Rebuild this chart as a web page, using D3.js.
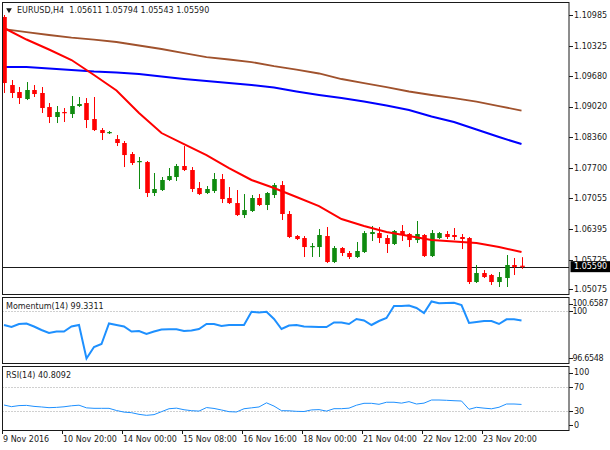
<!DOCTYPE html>
<html>
<head>
<meta charset="utf-8">
<script src="https://cdn.jsdelivr.net/npm/d3@7"></script>
<style>
  html, body { margin: 0; padding: 0; background: #fff; }
  svg { display: block; font-family: "DejaVu Sans", sans-serif; font-size: 8px; }
</style>
</head>
<body>
<div id="chart"></div>
<script>
// ---- data ----
const symbolTitle = "EURUSD,H4";
const lastQuote = ["1.05611", "1.05794", "1.05543", "1.05590"];

const dateLabels = ["9 Nov 2016", "10 Nov 20:00", "14 Nov 00:00", "15 Nov 08:00", "16 Nov 16:00",
                    "18 Nov 00:00", "21 Nov 04:00", "22 Nov 12:00", "23 Nov 20:00"];
const dateLabelBars = [0, 8, 16, 24, 32, 40, 48, 56, 64];

const priceTicks = [1.10985, 1.10325, 1.09680, 1.09020, 1.08360, 1.07700, 1.07055, 1.06395, 1.05725, 1.05075];
const lastPrice = 1.05590;

const opens = [1.10942, 1.09484, 1.09334, 1.09184, 1.09377, 1.09313, 1.09012, 1.08798, 1.08905, 1.08862,
  1.09034, 1.09098, 1.08755, 1.08519, 1.08455, 1.08326, 1.08241, 1.08005, 1.07833, 1.07833,
  1.07169, 1.07233, 1.07448, 1.07512, 1.07748, 1.07662, 1.07276, 1.07169, 1.07212, 1.07469,
  1.07062, 1.06954, 1.06697, 1.06783, 1.07062, 1.06912, 1.07126, 1.07340, 1.06719, 1.06247,
  1.06204, 1.06011, 1.06011, 1.06247, 1.05690, 1.05990, 1.05883, 1.05797, 1.05904, 1.06290,
  1.06311, 1.06204, 1.06076, 1.06354, 1.06290, 1.06161, 1.06269, 1.05818, 1.06204, 1.06290,
  1.06269, 1.06226, 1.06204, 1.05261, 1.05454, 1.05411, 1.05261, 1.05347, 1.05626, 1.05611];
const highs = [1.10985, 1.09591, 1.09441, 1.09548, 1.09484, 1.09441, 1.09098, 1.09034, 1.08991, 1.09248,
  1.09227, 1.09205, 1.09227, 1.08562, 1.08498, 1.08412, 1.08284, 1.08048, 1.07941, 1.07855,
  1.07598, 1.07512, 1.07705, 1.07791, 1.08176, 1.07726, 1.07405, 1.07319, 1.07598, 1.07576,
  1.07297, 1.07233, 1.07147, 1.07126, 1.07147, 1.07190, 1.07383, 1.07426, 1.06783, 1.06269,
  1.06247, 1.06097, 1.06397, 1.06440, 1.06033, 1.06011, 1.05926, 1.06119, 1.06354, 1.06462,
  1.06440, 1.06269, 1.06376, 1.06483, 1.06311, 1.06569, 1.06290, 1.06376, 1.06333, 1.06354,
  1.06419, 1.06290, 1.06226, 1.05626, 1.05518, 1.05433, 1.05475, 1.05840, 1.05776, 1.05794];
const lows = [1.09313, 1.09205, 1.09077, 1.09162, 1.09227, 1.08884, 1.08669, 1.08669, 1.08691, 1.08777,
  1.09012, 1.08562, 1.08498, 1.08305, 1.08434, 1.08176, 1.07726, 1.07769, 1.07255, 1.07083,
  1.07105, 1.07212, 1.07426, 1.07426, 1.07640, 1.07190, 1.07126, 1.07147, 1.07169, 1.06954,
  1.06933, 1.06676, 1.06633, 1.06762, 1.06890, 1.06804, 1.07062, 1.06590, 1.06204, 1.06161,
  1.05797, 1.05797, 1.05797, 1.05668, 1.05668, 1.05818, 1.05754, 1.05776, 1.05883, 1.06140,
  1.06097, 1.05883, 1.06054, 1.06140, 1.06011, 1.06097, 1.05797, 1.05797, 1.06183, 1.06183,
  1.06161, 1.05968, 1.05218, 1.05240, 1.05347, 1.05197, 1.05154, 1.05154, 1.05411, 1.05543];
const closes = [1.09527, 1.09313, 1.09205, 1.09377, 1.09291, 1.08991, 1.08798, 1.08905, 1.08884, 1.09034,
  1.09077, 1.08734, 1.08519, 1.08455, 1.08476, 1.08241, 1.07983, 1.07812, 1.07855, 1.07169,
  1.07255, 1.07448, 1.07533, 1.07748, 1.07662, 1.07255, 1.07147, 1.07255, 1.07469, 1.07040,
  1.06954, 1.06697, 1.06804, 1.07062, 1.06912, 1.07169, 1.07340, 1.06719, 1.06226, 1.06183,
  1.06011, 1.06033, 1.06269, 1.05690, 1.05990, 1.05883, 1.05797, 1.05926, 1.06311, 1.06333,
  1.06204, 1.06076, 1.06354, 1.06269, 1.06161, 1.06290, 1.05818, 1.06311, 1.06311, 1.06226,
  1.06226, 1.06183, 1.05261, 1.05454, 1.05368, 1.05261, 1.05368, 1.05626, 1.05583, 1.05590];

// moving averages, read every third bar
const maBars = [0, 3, 6, 9, 12, 15, 18, 21, 24, 27, 30, 33, 36, 39, 42, 45, 48, 51, 54, 57, 60, 63, 66, 69];
const maFast = [1.10706, 1.10459, 1.10245, 1.10020, 1.09698, 1.09366, 1.08884, 1.08455, 1.08219, 1.07983,
  1.07705, 1.07448, 1.07276, 1.07083, 1.06890, 1.06612, 1.06462, 1.06333, 1.06247, 1.06161,
  1.06129, 1.06097, 1.06011, 1.05904];
const maMid = [1.09870, 1.09870, 1.09838, 1.09806, 1.09773, 1.09752, 1.09720, 1.09666, 1.09613, 1.09570,
  1.09527, 1.09484, 1.09430, 1.09345, 1.09270, 1.09205, 1.09130, 1.09045, 1.08948, 1.08809,
  1.08691, 1.08530, 1.08369, 1.08219];
const maSlow = [1.10684, 1.10620, 1.10556, 1.10502, 1.10459, 1.10406, 1.10331, 1.10256, 1.10170, 1.10084,
  1.10031, 1.09977, 1.09891, 1.09816, 1.09731, 1.09613, 1.09527, 1.09441, 1.09345, 1.09270,
  1.09205, 1.09130, 1.09034, 1.08937];

const momentum = [99.008, 98.868, 99.078, 99.113, 98.903, 98.657, 98.446, 98.551, 98.551, 98.903,
  99.008, 96.6548, 97.463, 97.673, 99.113, 99.008, 98.903, 98.551, 98.587, 98.376,
  98.551, 98.692, 98.706, 98.706, 98.587, 98.622, 98.727, 99.078, 99.078, 98.938,
  99.008, 99.008, 99.008, 99.942, 99.886, 99.942, 99.429, 98.727, 98.973, 99.008,
  98.903, 98.889, 98.868, 98.868, 99.184, 99.184, 99.078, 99.429, 99.324, 99.008,
  99.289, 99.500, 100.343, 100.343, 100.378, 100.202, 99.851, 100.6587, 100.532, 100.553,
  100.574, 100.413, 99.148, 99.219, 99.289, 99.289, 99.078, 99.408, 99.408, 99.3311];
const momentumTicks = [100.6587, 100, 96.6548];
const momentumLevels = [100];

const rsi = [39.8, 37.0, 38.8, 39.2, 37.5, 36.5, 35.3, 35.8, 36.8, 38.5,
  39.5, 35.0, 34.2, 34.2, 34.2, 30.5, 27.8, 26.8, 24.0, 22.3,
  23.5, 28.5, 33.5, 34.5, 31.8, 30.2, 29.5, 35.5, 34.0, 31.4,
  28.5, 28.0, 33.5, 35.0, 36.5, 43.5, 38.0, 30.2, 30.0, 29.1,
  28.8, 31.5, 32.0, 29.5, 33.6, 33.6, 34.5, 39.5, 42.7, 42.7,
  41.0, 44.5, 44.5, 43.0, 45.5, 41.5, 43.0, 48.3, 48.3, 47.8,
  47.1, 46.6, 32.5, 35.9, 34.5, 33.4, 36.0, 41.5, 41.5, 40.8092];
const rsiTicks = [100, 70, 30, 0];
const rsiLevels = [70, 30];

// ---- layout ----
const width = 610, height = 450;
const left = 2.5, right = 569;
const mainPane = { top: 2.5, bottom: 294.5 };
const momPane = { top: 297.5, bottom: 363.5 };
const rsiPane = { top: 366.5, bottom: 430.5 };
const barStep = 7.5;
const bodyWidth = 4.6;
const bull = "#0f8a0f", bear = "#ff0000", ink = "#1a1a1a";

const svg = d3.select("#chart").append("svg")
  .attr("width", width)
  .attr("height", height);

const x = d3.scaleLinear()
  .domain([0, opens.length - 1])
  .range([left + 1.5, left + 1.5 + barStep * (opens.length - 1)]);

const yMain = d3.scaleLinear().domain([1.05075, 1.10985]).range([290.7, 15]);
const yMom = d3.scaleLinear().domain([96.6548, 100.6587]).range([358.5, 301.5]);
const yRsi = d3.scaleLinear().domain([0, 100]).range([428.5, 369.5]);

// clip paths for each pane
const defs = svg.append("defs");
[["clipMain", mainPane], ["clipMom", momPane], ["clipRsi", rsiPane]].forEach(([id, p]) => {
  defs.append("clipPath").attr("id", id)
    .append("rect")
    .attr("x", left).attr("y", p.top)
    .attr("width", right - left).attr("height", p.bottom - p.top);
});

// level lines (dotted)
const momG = svg.append("g").attr("clip-path", "url(#clipMom)");
momG.selectAll("line.level").data(momentumLevels).enter().append("line")
  .attr("x1", left).attr("x2", right)
  .attr("y1", d => Math.round(yMom(d)) + 0.5).attr("y2", d => Math.round(yMom(d)) + 0.5)
  .attr("stroke", "#a0a0a0").attr("stroke-dasharray", "1,2");

const rsiG = svg.append("g").attr("clip-path", "url(#clipRsi)");
rsiG.selectAll("line.level").data(rsiLevels).enter().append("line")
  .attr("x1", left).attr("x2", right)
  .attr("y1", d => Math.round(yRsi(d)) + 0.5).attr("y2", d => Math.round(yRsi(d)) + 0.5)
  .attr("stroke", "#a0a0a0").attr("stroke-dasharray", "1,2");

// ---- main pane ----
const mainG = svg.append("g").attr("clip-path", "url(#clipMain)");

// current price line
mainG.append("line")
  .attr("x1", left).attr("x2", right)
  .attr("y1", Math.round(yMain(lastPrice)) + 0.5).attr("y2", Math.round(yMain(lastPrice)) + 0.5)
  .attr("stroke", ink).attr("stroke-width", 1);

const maLine = values => d3.line()
  .x((d, k) => x(maBars[k]))
  .y(d => yMain(d))(values);

mainG.append("path").attr("d", maLine(maSlow))
  .attr("fill", "none").attr("stroke", "#a0522d").attr("stroke-width", 1.8);
mainG.append("path").attr("d", maLine(maMid))
  .attr("fill", "none").attr("stroke", "#0000ff").attr("stroke-width", 2);

const bars = opens.map((o, i) => ({ i, o, h: highs[i], l: lows[i], c: closes[i] }));
const candle = mainG.selectAll("g.candle").data(bars).enter().append("g")
  .attr("class", "candle");

candle.append("line")
  .attr("x1", d => Math.round(x(d.i)) + 0.5).attr("x2", d => Math.round(x(d.i)) + 0.5)
  .attr("y1", d => yMain(d.h)).attr("y2", d => yMain(d.l))
  .attr("stroke", d => d.c >= d.o ? bull : bear).attr("stroke-width", 1);

candle.append("rect")
  .attr("x", d => Math.round(x(d.i)) + 0.5 - bodyWidth / 2)
  .attr("width", bodyWidth)
  .attr("y", d => yMain(Math.max(d.o, d.c)))
  .attr("height", d => Math.max(1.2, Math.abs(yMain(d.o) - yMain(d.c))))
  .attr("fill", d => d.c >= d.o ? bull : bear);

mainG.append("path").attr("d", maLine(maFast))
  .attr("fill", "none").attr("stroke", "#ff0000").attr("stroke-width", 2);

// ---- indicator panes ----
momG.append("path")
  .attr("d", d3.line().x((d, i) => x(i)).y(d => yMom(d))(momentum))
  .attr("fill", "none").attr("stroke", "#1e90ff").attr("stroke-width", 2);

rsiG.append("path")
  .attr("d", d3.line().x((d, i) => x(i)).y(d => yRsi(d))(rsi))
  .attr("fill", "none").attr("stroke", "#1e90ff").attr("stroke-width", 1);

// ---- frames ----
[mainPane, momPane, rsiPane].forEach(p => {
  svg.append("rect")
    .attr("x", left).attr("y", p.top)
    .attr("width", right - left).attr("height", p.bottom - p.top)
    .attr("fill", "none").attr("stroke", ink).attr("stroke-width", 1);
});

// ---- right axes ----
const clampY = (v, p) => Math.max(p.top + 6, Math.min(p.bottom - 5.5, v));

function rightAxis(ticks, scale, pane, fmt, squeeze) {
  const g = svg.append("g");
  g.selectAll("line").data(ticks).enter().append("line")
    .attr("x1", right).attr("x2", right + 4)
    .attr("y1", d => Math.round(clampY(scale(d), pane)) + 0.5)
    .attr("y2", d => Math.round(clampY(scale(d), pane)) + 0.5)
    .attr("stroke", ink);
  g.selectAll("text").data(ticks).enter().append("text")
    .attr("x", right + (squeeze ? 3.5 : 5))
    .attr("y", d => clampY(scale(d), pane))
    .attr("dy", "0.35em")
    .attr("letter-spacing", squeeze ? -0.35 : 0)
    .attr("fill", ink)
    .text(fmt);
}

rightAxis(priceTicks, yMain, mainPane, d => d.toFixed(5), false);
rightAxis(momentumTicks, yMom, momPane, d => String(d), true);
rightAxis(rsiTicks, yRsi, rsiPane, d => String(d), false);

// current price box
const boxY = yMain(lastPrice);
svg.append("rect")
  .attr("x", right + 1.5).attr("y", boxY - 5.5)
  .attr("width", width - right - 1.5).attr("height", 11)
  .attr("fill", "#000");
svg.append("text")
  .attr("x", right + 5).attr("y", boxY).attr("dy", "0.35em")
  .attr("fill", "#fff")
  .text(lastPrice.toFixed(5));

// ---- bottom time axis ----
const timeG = svg.append("g");
timeG.selectAll("line").data(dateLabelBars).enter().append("line")
  .attr("x1", d => Math.round(x(d)) - 1.5).attr("x2", d => Math.round(x(d)) - 1.5)
  .attr("y1", rsiPane.bottom).attr("y2", rsiPane.bottom + 3.5)
  .attr("stroke", ink);
timeG.selectAll("text").data(dateLabelBars).enter().append("text")
  .attr("x", d => x(d) - 1)
  .attr("y", rsiPane.bottom + 8.5)
  .attr("dy", "0.35em")
  .attr("fill", ink)
  .text((d, k) => dateLabels[k]);

// ---- titles ----
svg.append("path")
  .attr("d", d3.symbol().type(d3.symbolTriangle).size(14)())
  .attr("transform", "translate(9,10) rotate(180)")
  .attr("fill", ink);
svg.append("text")
  .attr("x", 17).attr("y", 10).attr("dy", "0.35em")
  .attr("fill", ink)
  .attr("xml:space", "preserve")
  .text(symbolTitle + "  " + lastQuote.join(" "));

svg.append("text")
  .attr("x", 6).attr("y", momPane.top + 8.5).attr("dy", "0.35em")
  .attr("fill", ink)
  .text("Momentum(14) " + momentum[momentum.length - 1].toFixed(4));

svg.append("text")
  .attr("x", 6).attr("y", rsiPane.top + 8.5).attr("dy", "0.35em")
  .attr("fill", ink)
  .text("RSI(14) " + rsi[rsi.length - 1].toFixed(4));
</script>
</body>
</html>
